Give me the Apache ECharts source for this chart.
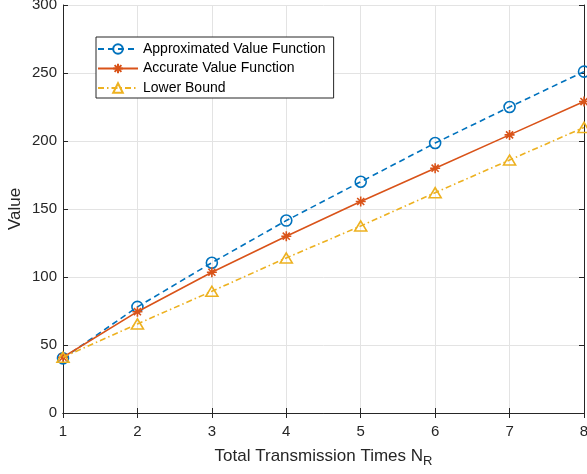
<!DOCTYPE html>
<html>
<head>
<meta charset="utf-8">
<script src="https://cdn.jsdelivr.net/npm/echarts@6/dist/echarts.min.js"></script>
<style>html,body{margin:0;padding:0;background:#fff}#c{width:587px;height:474px}</style>
</head>
<body>
<div id="c"></div>
<script>
const categories = [1, 2, 3, 4, 5, 6, 7, 8];
const approxValues = [40.2, 78, 110.5, 141.5, 170, 198.5, 225, 251];
const accurateValues = [41, 74.5, 103.5, 130, 155.5, 180, 204.5, 229];
const lowerValues = [41, 65.5, 89.5, 114, 137.5, 162, 186, 210];
const yTicks = [0, 50, 100, 150, 200, 250, 300];
const seriesNames = ['Approximated Value Function', 'Accurate Value Function', 'Lower Bound'];

const FONT = 'Liberation Sans, Arial, Helvetica, sans-serif';
const AX = '#262626';
const star = 'path://M0,-10L0,10M-10,0L10,0M-7.07,-7.07L7.07,7.07M-7.07,7.07L7.07,-7.07';

function pairs(vals) { return categories.map((x, i) => [x, vals[i]]); }

const chart = echarts.init(document.getElementById('c'), null, {renderer: 'canvas'});
const axisCommon = {
  axisLine: {show: true, lineStyle: {color: AX, width: 1}},
  axisTick: {show: true, inside: true, length: 5, lineStyle: {color: AX}},
};
chart.setOption({
  animation: false,
  backgroundColor: '#fff',
  textStyle: {fontFamily: FONT},
  grid: {left: 63, right: 3, top: 5, bottom: 61, containLabel: false, outerBoundsMode: 'none'},
  legend: {
    orient: 'vertical', left: 96, top: 37,
    backgroundColor: '#fff', borderColor: AX, borderWidth: 1,
    padding: [5, 8, 3, 1], itemGap: 5.5, itemWidth: 40, itemHeight: 12,
    textStyle: {fontFamily: FONT, fontSize: 14, color: '#000'},
    data: seriesNames
  },
  xAxis: [{
    type: 'value', min: 1, max: 8, interval: 1,
    ...axisCommon,
    axisLabel: {color: AX, fontSize: 15, fontFamily: FONT, margin: 11},
    splitLine: {show: true, lineStyle: {color: '#e3e3e3', width: 1}},
    name: '{a|Total Transmission Times N}{b|R}',
    nameLocation: 'middle', nameGap: 31, nameMoveOverlap: false,
    nameTextStyle: {
      color: AX, fontFamily: FONT,
      rich: {a: {fontSize: 17, fontFamily: FONT, color: AX}, b: {fontSize: 13, fontFamily: FONT, color: AX, padding: [11, 0, 0, 0]}}
    }
  }, {
    type: 'value', min: 1, max: 8, interval: 1, position: 'top',
    ...axisCommon,
    axisLabel: {show: false}, splitLine: {show: false}
  }],
  yAxis: [{
    type: 'value', min: 0, max: 300, interval: 50,
    ...axisCommon,
    axisLabel: {color: AX, fontSize: 15, fontFamily: FONT, margin: 6},
    splitLine: {show: true, lineStyle: {color: '#e3e3e3', width: 1}},
    name: 'Value', nameLocation: 'middle', nameGap: 39, nameMoveOverlap: false,
    nameTextStyle: {color: AX, fontSize: 17, fontFamily: FONT}
  }, {
    type: 'value', min: 0, max: 300, interval: 50, position: 'right',
    ...axisCommon,
    axisLabel: {show: false}, splitLine: {show: false}
  }],
  series: [{
    name: seriesNames[0], type: 'line', data: pairs(approxValues),
    symbol: 'circle', symbolSize: 11,
    itemStyle: {color: 'rgba(255,255,255,0)', borderColor: '#0072BD', borderWidth: 1.6},
    lineStyle: {color: '#0072BD', width: 1.6, type: [6, 4]},
    z: 3
  }, {
    name: seriesNames[1], type: 'line', data: pairs(accurateValues),
    symbol: star, symbolSize: 10,
    itemStyle: {color: '#D95319', borderColor: '#D95319', borderWidth: 1.6},
    lineStyle: {color: '#D95319', width: 1.6, type: 'solid'},
    z: 4
  }, {
    name: seriesNames[2], type: 'line', data: pairs(lowerValues),
    symbol: 'triangle', symbolSize: [12, 10],
    itemStyle: {color: 'rgba(255,255,255,0)', borderColor: '#EDB120', borderWidth: 1.6},
    lineStyle: {color: '#EDB120', width: 1.6, type: [6, 3, 1.5, 3]},
    z: 5
  }]
});
</script>
</body>
</html>
